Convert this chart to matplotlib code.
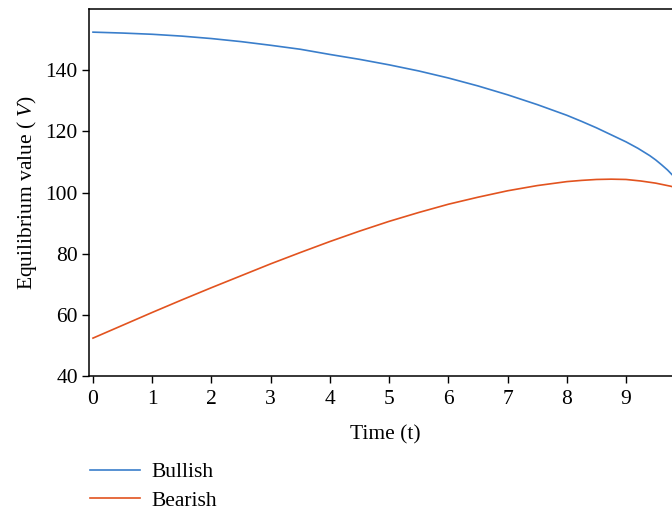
import matplotlib
matplotlib.use("Agg")
import matplotlib.pyplot as plt

# Equilibrium values over time
t_bull = [0, 0.5, 1, 1.5, 2, 2.5, 3, 3.5, 4, 4.5, 5, 5.5, 6, 6.5, 7, 7.5, 8,
          8.25, 8.5, 8.75, 9, 9.2, 9.4, 9.5, 9.6, 9.7, 9.8, 9.85]
v_bull = [152.5, 152.2, 151.8, 151.2, 150.4, 149.4, 148.2, 146.9, 145.2, 143.6, 141.8,
          139.8, 137.5, 134.9, 132.0, 128.8, 125.3, 123.3, 121.2, 118.9, 116.6, 114.5,
          112.1, 110.7, 109.1, 107.4, 105.4, 104.2]

t_bear = [0, 0.5, 1, 1.5, 2, 2.5, 3, 3.5, 4, 4.5, 5, 5.5, 6, 6.5, 7, 7.5, 8,
          8.25, 8.5, 8.75, 9, 9.25, 9.5, 9.75, 9.85]
v_bear = [52.4, 56.6, 60.8, 64.9, 68.9, 72.8, 76.7, 80.4, 84.0, 87.4, 90.6, 93.5, 96.2,
          98.5, 100.6, 102.3, 103.6, 104.0, 104.3, 104.4, 104.3, 103.8, 103.1, 102.1, 101.6]

labels = ["Bullish", "Bearish"]

plt.rcParams["font.family"] = ["Liberation Serif", "DejaVu Serif"]
plt.rcParams["font.size"] = 15.5
plt.rcParams["mathtext.fontset"] = "custom"
plt.rcParams["mathtext.it"] = "Liberation Serif:italic"
plt.rcParams["mathtext.rm"] = "Liberation Serif"

fig = plt.figure(figsize=(6.72, 5.12), dpi=100)
ax = fig.add_axes([0.1324, 0.2656, 0.905, 0.7164])

ax.plot(t_bull, v_bull, color="#3a7ecb", lw=1.2, label=labels[0])
ax.plot(t_bear, v_bear, color="#e2531f", lw=1.2, label=labels[1])

ax.set_xlim(-0.068, 10.2)
ax.set_ylim(40, 160)
ax.set_xticks(range(10))
ax.set_yticks([40, 60, 80, 100, 120, 140])
ax.tick_params(direction="out", length=5, width=1, pad=3)
ax.tick_params(axis="x", pad=5)
for s in ax.spines.values():
    s.set_linewidth(1.1)

ax.set_xlabel("Time (t)")
ax.xaxis.set_label_coords(0.488, -0.135)
ax.set_ylabel("Equilibrium value ( $V$)", labelpad=5)

leg = ax.legend(loc="upper left", bbox_to_anchor=(-0.03, -0.182), frameon=False,
                handlelength=2.3, handletextpad=0.55, labelspacing=0.4)

fig.savefig("out.png", dpi=100)
